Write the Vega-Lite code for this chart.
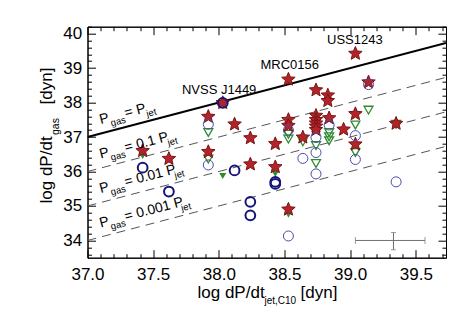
{
  "$schema": "https://vega.github.io/schema/vega-lite/v6.json",
  "width": 358.5,
  "height": 231,
  "autosize": "none",
  "padding": {"left": 87.5, "top": 26.7, "right": 26, "bottom": 56.3},
  "background": "white",
  "config": {"view": {"stroke": "black", "strokeWidth": 1}, "font": "Liberation Sans"},
  "datasets": {
    "lines": [
      {"kind": "solid", "g": "1", "x": 37.0, "y": 37.0},
      {"kind": "solid", "g": "1", "x": 39.73, "y": 39.73},
      {"kind": "dash", "g": "0.1", "x": 37.0, "y": 36.0},
      {"kind": "dash", "g": "0.1", "x": 39.73, "y": 38.73},
      {"kind": "dash", "g": "0.01", "x": 37.0, "y": 35.0},
      {"kind": "dash", "g": "0.01", "x": 39.73, "y": 37.73},
      {"kind": "dash", "g": "0.001", "x": 37.0, "y": 34.0},
      {"kind": "dash", "g": "0.001", "x": 39.73, "y": 36.73}
    ],
    "pts": [
      {"type": "star", "x": 37.42, "y": 36.60},
      {"type": "star", "x": 37.62, "y": 36.37},
      {"type": "star", "x": 37.92, "y": 37.59},
      {"type": "star", "x": 37.92, "y": 36.57},
      {"type": "star", "x": 38.03, "y": 37.99},
      {"type": "star", "x": 38.12, "y": 37.37},
      {"type": "star", "x": 38.24, "y": 36.97},
      {"type": "star", "x": 38.24, "y": 36.21},
      {"type": "star", "x": 38.43, "y": 36.80},
      {"type": "star", "x": 38.43, "y": 36.13},
      {"type": "star", "x": 38.53, "y": 38.67},
      {"type": "star", "x": 38.53, "y": 37.50},
      {"type": "star", "x": 38.53, "y": 37.33},
      {"type": "star", "x": 38.53, "y": 34.90},
      {"type": "star", "x": 38.64, "y": 36.99},
      {"type": "star", "x": 38.74, "y": 38.36},
      {"type": "star", "x": 38.74, "y": 37.62},
      {"type": "star", "x": 38.74, "y": 37.50},
      {"type": "star", "x": 38.74, "y": 37.40},
      {"type": "star", "x": 38.74, "y": 37.31},
      {"type": "star", "x": 38.74, "y": 37.21},
      {"type": "star", "x": 38.83, "y": 38.21},
      {"type": "star", "x": 38.83, "y": 38.05},
      {"type": "star", "x": 38.84, "y": 37.55},
      {"type": "star", "x": 38.95, "y": 37.22},
      {"type": "star", "x": 39.04, "y": 39.42},
      {"type": "star", "x": 39.04, "y": 37.67},
      {"type": "star", "x": 39.04, "y": 36.79},
      {"type": "star", "x": 39.14, "y": 38.59},
      {"type": "star", "x": 39.35, "y": 37.39},
      {"type": "tri", "x": 37.92, "y": 37.13},
      {"type": "tri", "x": 37.92, "y": 36.36},
      {"type": "tri", "x": 38.53, "y": 37.08},
      {"type": "tri", "x": 38.53, "y": 36.94},
      {"type": "tri", "x": 38.64, "y": 36.86},
      {"type": "tri", "x": 38.74, "y": 36.75},
      {"type": "tri", "x": 38.74, "y": 36.23},
      {"type": "tri", "x": 38.84, "y": 37.13},
      {"type": "tri", "x": 38.84, "y": 37.01},
      {"type": "tri", "x": 38.84, "y": 36.89},
      {"type": "tri", "x": 39.04, "y": 37.35},
      {"type": "tri", "x": 39.04, "y": 36.55},
      {"type": "tri", "x": 39.14, "y": 37.78},
      {"type": "tri", "x": 39.35, "y": 37.37},
      {"type": "trif", "x": 37.42, "y": 36.45},
      {"type": "trif", "x": 38.03, "y": 35.87},
      {"type": "trif", "x": 38.43, "y": 35.93},
      {"type": "trif", "x": 38.53, "y": 34.75},
      {"type": "circ", "x": 37.42, "y": 36.11},
      {"type": "circ", "x": 37.62, "y": 35.42},
      {"type": "circ", "x": 38.03, "y": 37.99},
      {"type": "circ", "x": 38.12, "y": 36.03},
      {"type": "circ", "x": 38.24, "y": 35.12},
      {"type": "circ", "x": 38.24, "y": 34.73},
      {"type": "circ", "x": 38.43, "y": 35.70},
      {"type": "circ", "x": 38.43, "y": 35.64},
      {"type": "circt", "x": 37.92, "y": 37.37},
      {"type": "circt", "x": 37.92, "y": 36.19},
      {"type": "circt", "x": 38.53, "y": 37.20},
      {"type": "circt", "x": 38.53, "y": 34.13},
      {"type": "circt", "x": 38.64, "y": 36.38},
      {"type": "circt", "x": 38.74, "y": 36.99},
      {"type": "circt", "x": 38.74, "y": 36.55},
      {"type": "circt", "x": 38.74, "y": 35.93},
      {"type": "circt", "x": 38.84, "y": 37.35},
      {"type": "circt", "x": 39.04, "y": 37.04},
      {"type": "circt", "x": 39.04, "y": 36.35},
      {"type": "circt", "x": 39.14, "y": 38.52},
      {"type": "circt", "x": 39.35, "y": 35.70}
    ],
    "labels": [
      {"role": "main", "x": 37.100, "y": 37.377, "text": "P"},
      {"role": "sub", "x": 37.183, "y": 37.310, "text": "gas"},
      {"role": "main", "x": 37.291, "y": 37.568, "text": "= P"},
      {"role": "sub", "x": 37.455, "y": 37.582, "text": "jet"},
      {"role": "main", "x": 37.100, "y": 36.377, "text": "P"},
      {"role": "sub", "x": 37.183, "y": 36.310, "text": "gas"},
      {"role": "main", "x": 37.291, "y": 36.568, "text": "= 0.1 P"},
      {"role": "sub", "x": 37.617, "y": 36.744, "text": "jet"},
      {"role": "main", "x": 37.100, "y": 35.377, "text": "P"},
      {"role": "sub", "x": 37.183, "y": 35.310, "text": "gas"},
      {"role": "main", "x": 37.291, "y": 35.568, "text": "= 0.01 P"},
      {"role": "sub", "x": 37.669, "y": 35.795, "text": "jet"},
      {"role": "main", "x": 37.100, "y": 34.377, "text": "P"},
      {"role": "sub", "x": 37.183, "y": 34.310, "text": "gas"},
      {"role": "main", "x": 37.291, "y": 34.568, "text": "= 0.001 P"},
      {"role": "sub", "x": 37.720, "y": 34.847, "text": "jet"}
    ],
    "names": [
      {"x": 37.719, "y": 38.258, "text": "NVSS J1449"},
      {"x": 38.317, "y": 38.987, "text": "MRC0156"},
      {"x": 38.824, "y": 39.687, "text": "USS1243"}
    ],
    "eb": [
      {"xc": 39.33, "xlo": 39.04, "xhi": 39.57, "yc": 34.0, "ylo": 33.73, "yhi": 34.23}
    ]
  },
  "layer": [
    {
      "data": {"name": "lines"},
      "transform": [{"filter": "datum.kind == 'solid'"}],
      "mark": {"type": "line", "color": "black", "strokeWidth": 2, "clip": true},
      "encoding": {
        "detail": {"field": "g"},
        "x": {"field": "x", "type": "quantitative", "scale": {"domain": [37, 39.73], "nice": false, "zero": false},
          "axis": {"orient": "bottom", "values": [37, 37.5, 38, 38.5, 39, 39.5], "format": ".1f", "tickSize": -8, "tickColor": "black", "domainColor": "black", "labelPadding": 17, "labelFontSize": 17, "labelFont": "Liberation Sans", "labelColor": "black", "labelFlush": false, "labelOverlap": false, "grid": false,
            "title": "log dP/dt", "titleFont": "Liberation Sans", "titleFontSize": 17, "titleFontWeight": "normal", "titleColor": "black", "titleX": 109.5, "titleY": 39.3, "titleAlign": "left", "titleBaseline": "alphabetic", "titleAngle": 0}},
        "y": {"field": "y", "type": "quantitative", "scale": {"domain": [33.5, 40.2], "nice": false, "zero": false},
          "axis": {"orient": "left", "values": [34, 35, 36, 37, 38, 39, 40], "format": "d", "tickSize": -8, "tickColor": "black", "domainColor": "black", "labelPadding": 13.8, "labelFontSize": 17, "labelFont": "Liberation Sans", "labelColor": "black", "labelFlush": false, "labelOverlap": false, "grid": false,
            "title": "log dP/dt", "titleFont": "Liberation Sans", "titleFontSize": 17, "titleFontWeight": "normal", "titleColor": "black", "titleX": -36.1, "titleY": 176.3, "titleAlign": "left", "titleBaseline": "alphabetic", "titleAngle": 270}}
      }
    },
    {
      "data": {"name": "lines"},
      "transform": [{"filter": "datum.kind == 'dash'"}],
      "mark": {"type": "line", "color": "#555555", "strokeWidth": 1, "strokeDash": [9, 6], "clip": true},
      "encoding": {
        "detail": {"field": "g"},
        "x": {"field": "x", "type": "quantitative", "scale": {"domain": [37, 39.73], "nice": false, "zero": false},
          "axis": {"orient": "bottom", "values": [37.1, 37.2, 37.3, 37.4, 37.6, 37.7, 37.8, 37.9, 38.1, 38.2, 38.3, 38.4, 38.6, 38.7, 38.8, 38.9, 39.1, 39.2, 39.3, 39.4, 39.6, 39.7], "tickSize": -4, "tickColor": "black", "labels": false, "domain": false, "grid": false,
            "title": "jet,C10", "titleFont": "Liberation Sans", "titleFontSize": 10, "titleFontWeight": "normal", "titleColor": "black", "titleX": 176.5, "titleY": 45.5, "titleAlign": "left", "titleBaseline": "alphabetic", "titleAngle": 0}},
        "y": {"field": "y", "type": "quantitative", "scale": {"domain": [33.5, 40.2], "nice": false, "zero": false},
          "axis": {"orient": "left", "values": [33.6, 33.8, 34.2, 34.4, 34.6, 34.8, 35.2, 35.4, 35.6, 35.8, 36.2, 36.4, 36.6, 36.8, 37.2, 37.4, 37.6, 37.8, 38.2, 38.4, 38.6, 38.8, 39.2, 39.4, 39.6, 39.8, 40.2], "tickSize": -4, "tickColor": "black", "labels": false, "domain": false, "grid": false,
            "title": "gas", "titleFont": "Liberation Sans", "titleFontSize": 10.5, "titleFontWeight": "normal", "titleColor": "black", "titleX": -29, "titleY": 107.8, "titleAlign": "left", "titleBaseline": "alphabetic", "titleAngle": 270}}
      }
    },
    {
      "data": {"name": "pts"},
      "transform": [{"filter": "datum.type == 'tri'"}],
      "mark": {"type": "point", "shape": "triangle-down", "filled": false, "stroke": "#2e8b2e", "strokeWidth": 1.3, "size": 80, "opacity": 1},
      "encoding": {
        "x": {"field": "x", "type": "quantitative", "scale": {"domain": [37, 39.73], "nice": false, "zero": false},
          "axis": {"orient": "top", "values": [37, 37.5, 38, 38.5, 39, 39.5], "tickSize": -8, "tickColor": "black", "domainColor": "black", "labels": false, "grid": false,
            "title": "[dyn]", "titleFont": "Liberation Sans", "titleFontSize": 17, "titleFontWeight": "normal", "titleColor": "black", "titleX": -36.1, "titleY": 77.3, "titleAlign": "left", "titleBaseline": "alphabetic", "titleAngle": 270}},
        "y": {"field": "y", "type": "quantitative", "scale": {"domain": [33.5, 40.2], "nice": false, "zero": false},
          "axis": {"orient": "right", "values": [34, 35, 36, 37, 38, 39, 40], "tickSize": -8, "tickColor": "black", "domainColor": "black", "labels": false, "grid": false,
            "title": "[dyn]", "titleFont": "Liberation Sans", "titleFontSize": 17, "titleFontWeight": "normal", "titleColor": "black", "titleX": -146, "titleY": 270.3, "titleAlign": "left", "titleBaseline": "alphabetic", "titleAngle": 0}}
      }
    },
    {
      "data": {"name": "pts"},
      "transform": [{"filter": "datum.type == 'trif'"}],
      "mark": {"type": "point", "shape": "triangle-down", "filled": true, "fill": "#2e8b2e", "size": 50, "opacity": 1},
      "encoding": {
        "x": {"field": "x", "type": "quantitative", "scale": {"domain": [37, 39.73], "nice": false, "zero": false},
          "axis": {"orient": "top", "values": [37.1, 37.2, 37.3, 37.4, 37.6, 37.7, 37.8, 37.9, 38.1, 38.2, 38.3, 38.4, 38.6, 38.7, 38.8, 38.9, 39.1, 39.2, 39.3, 39.4, 39.6, 39.7], "tickSize": -4, "tickColor": "black", "labels": false, "domain": false, "grid": false, "title": null}},
        "y": {"field": "y", "type": "quantitative", "scale": {"domain": [33.5, 40.2], "nice": false, "zero": false},
          "axis": {"orient": "right", "values": [33.6, 33.8, 34.2, 34.4, 34.6, 34.8, 35.2, 35.4, 35.6, 35.8, 36.2, 36.4, 36.6, 36.8, 37.2, 37.4, 37.6, 37.8, 38.2, 38.4, 38.6, 38.8, 39.2, 39.4, 39.6, 39.8, 40.2], "tickSize": -4, "tickColor": "black", "labels": false, "domain": false, "grid": false, "title": null}}
      }
    },
    {
      "data": {"name": "pts"},
      "transform": [{"filter": "datum.type == 'star'"}],
      "mark": {"type": "point", "shape": "M0,-1L0.265,-0.364L0.951,-0.309L0.428,0.139L0.588,0.809L0,0.45L-0.588,0.809L-0.428,0.139L-0.951,-0.309L-0.265,-0.364Z", "filled": true, "fill": "#b3232a", "stroke": "#7a1414", "strokeWidth": 1, "size": 200, "opacity": 1},
      "encoding": {
        "x": {"field": "x", "type": "quantitative", "scale": {"domain": [37, 39.73], "nice": false, "zero": false}, "axis": null},
        "y": {"field": "y", "type": "quantitative", "scale": {"domain": [33.5, 40.2], "nice": false, "zero": false}, "axis": null}
      }
    },
    {
      "data": {"name": "pts"},
      "transform": [{"filter": "datum.type == 'circ'"}],
      "mark": {"type": "point", "shape": "circle", "filled": false, "stroke": "#14147a", "strokeWidth": 2, "size": 95, "opacity": 1},
      "encoding": {
        "x": {"field": "x", "type": "quantitative", "scale": {"domain": [37, 39.73], "nice": false, "zero": false}, "axis": null},
        "y": {"field": "y", "type": "quantitative", "scale": {"domain": [33.5, 40.2], "nice": false, "zero": false}, "axis": null}
      }
    },
    {
      "data": {"name": "pts"},
      "transform": [{"filter": "datum.type == 'circt'"}],
      "mark": {"type": "point", "shape": "circle", "filled": false, "stroke": "#4b4baa", "strokeWidth": 1, "size": 100, "opacity": 1},
      "encoding": {
        "x": {"field": "x", "type": "quantitative", "scale": {"domain": [37, 39.73], "nice": false, "zero": false}, "axis": null},
        "y": {"field": "y", "type": "quantitative", "scale": {"domain": [33.5, 40.2], "nice": false, "zero": false}, "axis": null}
      }
    },
    {
      "data": {"name": "labels"},
      "transform": [{"filter": "datum.role == 'main'"}],
      "mark": {"type": "text", "font": "Liberation Sans", "fontSize": 14, "align": "left", "baseline": "alphabetic", "color": "black"},
      "encoding": {
        "x": {"field": "x", "type": "quantitative", "scale": {"domain": [37, 39.73], "nice": false, "zero": false}, "axis": null},
        "y": {"field": "y", "type": "quantitative", "scale": {"domain": [33.5, 40.2], "nice": false, "zero": false}, "axis": null},
        "angle": {"value": 345.38},
        "text": {"field": "text"}
      }
    },
    {
      "data": {"name": "labels"},
      "transform": [{"filter": "datum.role == 'sub'"}],
      "mark": {"type": "text", "font": "Liberation Sans", "fontSize": 9.5, "align": "left", "baseline": "alphabetic", "color": "black"},
      "encoding": {
        "x": {"field": "x", "type": "quantitative", "scale": {"domain": [37, 39.73], "nice": false, "zero": false}, "axis": null},
        "y": {"field": "y", "type": "quantitative", "scale": {"domain": [33.5, 40.2], "nice": false, "zero": false}, "axis": null},
        "angle": {"value": 345.38},
        "text": {"field": "text"}
      }
    },
    {
      "data": {"name": "names"},
      "mark": {"type": "text", "font": "Liberation Sans", "fontSize": 13, "align": "left", "baseline": "alphabetic", "color": "black"},
      "encoding": {
        "x": {"field": "x", "type": "quantitative", "scale": {"domain": [37, 39.73], "nice": false, "zero": false}, "axis": null},
        "y": {"field": "y", "type": "quantitative", "scale": {"domain": [33.5, 40.2], "nice": false, "zero": false}, "axis": null},
        "text": {"field": "text"}
      }
    },
    {
      "data": {"name": "eb"},
      "mark": {"type": "rule", "color": "#707070", "strokeWidth": 1},
      "encoding": {
        "x": {"field": "xlo", "type": "quantitative", "scale": {"domain": [37, 39.73], "nice": false, "zero": false}, "axis": null},
        "x2": {"field": "xhi"},
        "y": {"field": "yc", "type": "quantitative", "scale": {"domain": [33.5, 40.2], "nice": false, "zero": false}, "axis": null}
      }
    },
    {
      "data": {"name": "eb"},
      "mark": {"type": "rule", "color": "#707070", "strokeWidth": 1},
      "encoding": {
        "x": {"field": "xc", "type": "quantitative", "scale": {"domain": [37, 39.73], "nice": false, "zero": false}, "axis": null},
        "y": {"field": "ylo", "type": "quantitative", "scale": {"domain": [33.5, 40.2], "nice": false, "zero": false}, "axis": null},
        "y2": {"field": "yhi"}
      }
    },
    {
      "data": {"name": "eb"},
      "mark": {"type": "tick", "orient": "vertical", "color": "#707070", "size": 7, "thickness": 1},
      "encoding": {
        "x": {"field": "xlo", "type": "quantitative", "scale": {"domain": [37, 39.73], "nice": false, "zero": false}, "axis": null},
        "y": {"field": "yc", "type": "quantitative", "scale": {"domain": [33.5, 40.2], "nice": false, "zero": false}, "axis": null}
      }
    },
    {
      "data": {"name": "eb"},
      "mark": {"type": "tick", "orient": "vertical", "color": "#707070", "size": 7, "thickness": 1},
      "encoding": {
        "x": {"field": "xhi", "type": "quantitative", "scale": {"domain": [37, 39.73], "nice": false, "zero": false}, "axis": null},
        "y": {"field": "yc", "type": "quantitative", "scale": {"domain": [33.5, 40.2], "nice": false, "zero": false}, "axis": null}
      }
    },
    {
      "data": {"name": "eb"},
      "mark": {"type": "tick", "orient": "horizontal", "color": "#707070", "size": 5, "thickness": 1},
      "encoding": {
        "x": {"field": "xc", "type": "quantitative", "scale": {"domain": [37, 39.73], "nice": false, "zero": false}, "axis": null},
        "y": {"field": "ylo", "type": "quantitative", "scale": {"domain": [33.5, 40.2], "nice": false, "zero": false}, "axis": null}
      }
    },
    {
      "data": {"name": "eb"},
      "mark": {"type": "tick", "orient": "horizontal", "color": "#707070", "size": 5, "thickness": 1},
      "encoding": {
        "x": {"field": "xc", "type": "quantitative", "scale": {"domain": [37, 39.73], "nice": false, "zero": false}, "axis": null},
        "y": {"field": "yhi", "type": "quantitative", "scale": {"domain": [33.5, 40.2], "nice": false, "zero": false}, "axis": null}
      }
    }
  ],
  "resolve": {"axis": {"x": "independent", "y": "independent"}}
}
